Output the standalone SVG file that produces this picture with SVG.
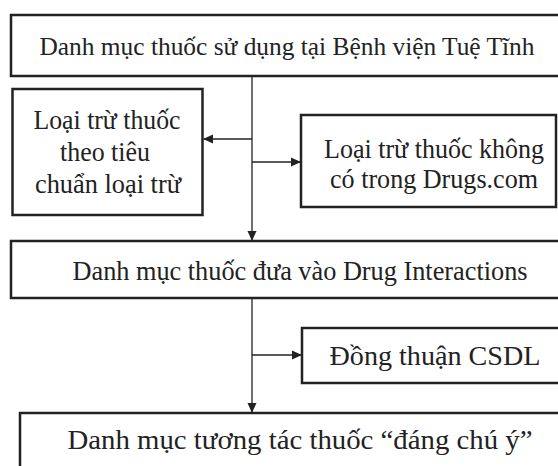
<svg xmlns="http://www.w3.org/2000/svg" width="558" height="466" viewBox="0 0 558 466">
<defs>
<style>
.box{fill:#fff;stroke:#222;stroke-width:2.5}
.t{font-family:"Liberation Serif","Times New Roman",serif;font-size:27px;fill:#222;text-anchor:middle}
.c{stroke:#222;stroke-width:1.3;fill:none}
</style>
<marker id="ah" markerWidth="10" markerHeight="10" refX="9" refY="5" orient="auto" markerUnits="userSpaceOnUse">
<path d="M0,0.5 L10,5 L0,9.5 Z" fill="#222"/>
</marker>
</defs>
<rect width="558" height="466" fill="#fff"/>
<g id="n1"><path class="box" d="M558,15 H11 V76 H558"/><text class="t" x="287" y="55" style="font-size:25.5px" textLength="495" lengthAdjust="spacingAndGlyphs">Danh mục thuốc sử dụng tại Bệnh viện Tuệ Tĩnh</text></g>
<g id="n2"><rect class="box" x="12.5" y="89" width="190" height="126"/><text class="t" x="107" y="129" textLength="147" lengthAdjust="spacingAndGlyphs">Loại trừ thuốc</text><text class="t" x="105" y="161" textLength="90" lengthAdjust="spacingAndGlyphs">theo tiêu</text><text class="t" x="108" y="193" textLength="146" lengthAdjust="spacingAndGlyphs">chuẩn loại trừ</text></g>
<g id="n3"><rect class="box" x="301" y="115" width="255" height="92"/><text class="t" x="434" y="158" textLength="220" lengthAdjust="spacingAndGlyphs">Loại trừ thuốc không</text><text class="t" x="434" y="188" textLength="208" lengthAdjust="spacingAndGlyphs">có trong Drugs.com</text></g>
<g id="n4"><path class="box" d="M558,241 H11 V298 H558"/><text class="t" x="300" y="280" textLength="455" lengthAdjust="spacingAndGlyphs">Danh mục thuốc đưa vào Drug Interactions</text></g>
<g id="n5"><path class="box" d="M558,328 H302 V383 H558"/><text class="t" x="435" y="365" style="font-size:28px" textLength="211" lengthAdjust="spacingAndGlyphs">Đồng thuận CSDL</text></g>
<g id="n6"><path class="box" d="M558,413 H20 V466"/><text class="t" x="300" y="449" textLength="465" lengthAdjust="spacingAndGlyphs">Danh mục tương tác thuốc “đáng chú ý”</text></g>
<g id="connectors">
<line class="c" x1="252" y1="76" x2="252" y2="240" marker-end="url(#ah)"/>
<line class="c" x1="252" y1="139" x2="204" y2="139" marker-end="url(#ah)"/>
<line class="c" x1="252" y1="162" x2="300" y2="162" marker-end="url(#ah)"/>
<line class="c" x1="252" y1="298" x2="252" y2="412" marker-end="url(#ah)"/>
<line class="c" x1="252" y1="355" x2="301" y2="355" marker-end="url(#ah)"/>
</g>
</svg>
